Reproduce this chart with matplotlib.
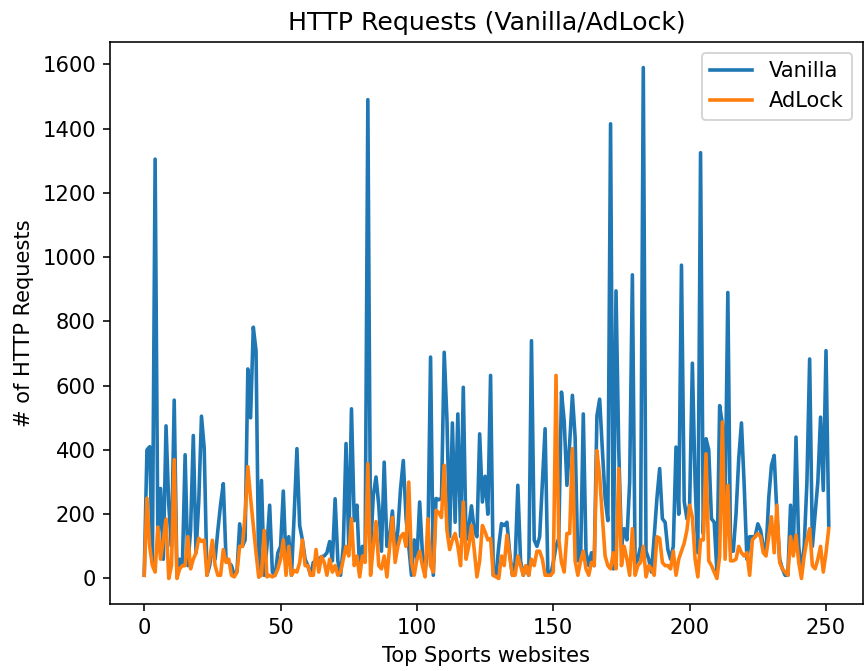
import matplotlib
matplotlib.use("Agg")
from matplotlib import pyplot as plt

# HTTP requests per site
vanilla = [10, 400, 410, 50, 1305, 120, 280, 60, 475, 230,
           100, 555, 10, 60, 40, 385, 40, 150, 445, 80,
           240, 505, 405, 10, 40, 103, 60, 150, 230, 295,
           60, 50, 40, 10, 20, 170, 100, 120, 652, 500,
           782, 709, 5, 305, 10, 100, 228, 20, 10, 80,
           100, 272, 50, 130, 10, 200, 404, 165, 120, 60,
           40, 10, 50, 55, 60, 68, 70, 80, 115, 55,
           248, 55, 10, 100, 420, 100, 528, 180, 228, 20,
           100, 60, 1490, 85, 259, 316, 228, 85, 362, 100,
           130, 210, 80, 150, 280, 367, 190, 100, 10, 120,
           60, 238, 80, 20, 100, 689, 10, 249, 245, 250,
           704, 497, 130, 484, 175, 512, 130, 595, 120, 160,
           226, 150, 130, 450, 238, 318, 200, 632, 10, 10,
           100, 171, 165, 175, 80, 10, 50, 290, 55, 10,
           40, 10, 740, 120, 100, 130, 300, 466, 20, 10,
           50, 100, 125, 580, 490, 290, 420, 570, 440, 55,
           55, 512, 80, 40, 80, 40, 506, 558, 400, 250,
           180, 1415, 30, 895, 400, 100, 155, 120, 300, 945,
           45, 60, 100, 1590, 85, 60, 20, 130, 250, 342,
           186, 175, 90, 60, 100, 409, 200, 975, 240, 186,
           230, 670, 300, 80, 1325, 140, 435, 400, 186, 175,
           20, 538, 480, 228, 890, 85, 85, 200, 373, 484,
           290, 60, 130, 130, 130, 170, 150, 100, 80, 250,
           352, 383, 200, 60, 30, 10, 10, 228, 80, 440,
           100, 20, 100, 300, 683, 100, 200, 300, 502, 274,
           709, 166]

adlock = [10, 250, 100, 40, 20, 160, 60, 120, 185, 0,
          40, 370, 0, 30, 40, 40, 130, 30, 60, 80,
          125, 115, 120, 10, 60, 119, 40, 10, 10, 90,
          50, 60, 10, 5, 20, 100, 100, 200, 348, 250,
          165, 80, 5, 10, 150, 5, 10, 5, 10, 30,
          60, 120, 10, 100, 10, 25, 20, 50, 120, 40,
          40, 10, 10, 90, 20, 68, 50, 10, 60, 20,
          40, 10, 20, 60, 100, 70, 186, 40, 70, 5,
          70, 50, 357, 10, 100, 177, 40, 30, 70, 5,
          100, 190, 50, 100, 130, 140, 100, 300, 50, 10,
          60, 85, 40, 5, 186, 40, 20, 212, 205, 190,
          352, 150, 90, 120, 140, 100, 40, 238, 60, 100,
          165, 90, 5, 55, 165, 145, 120, 125, 10, 5,
          0, 70, 40, 135, 70, 10, 10, 70, 40, 10,
          40, 10, 60, 40, 85, 85, 60, 10, 10, 10,
          20, 632, 125, 50, 20, 140, 140, 404, 55, 10,
          55, 85, 30, 10, 50, 40, 398, 318, 190, 70,
          40, 30, 80, 30, 342, 40, 100, 60, 10, 155,
          10, 40, 50, 100, 5, 40, 30, 10, 130, 125,
          50, 40, 40, 30, 85, 10, 60, 85, 110, 150,
          228, 190, 60, 5, 120, 120, 388, 55, 40, 20,
          0, 70, 487, 60, 290, 55, 55, 60, 100, 80,
          70, 80, 10, 120, 130, 140, 130, 80, 70, 130,
          192, 80, 228, 50, 30, 20, 10, 130, 70, 135,
          50, 0, 70, 120, 155, 40, 30, 60, 100, 20,
          80, 155]

plt.rcParams['font.size'] = 10.5
fig = plt.figure(figsize=(6.0, 671 / 144), dpi=144)
ax = fig.add_axes([0.1273, 0.0998, 0.8715, 0.8376])
ax.plot(vanilla, label='Vanilla', linewidth=1.8)
ax.plot(adlock, label='AdLock', linewidth=1.8)
ax.set_title('HTTP Requests (Vanilla/AdLock)')
ax.set_xlabel('Top Sports websites')
ax.set_ylabel('# of HTTP Requests')
ax.legend(loc='upper right')
fig.savefig('out.png', dpi=144)
plt.close(fig)
